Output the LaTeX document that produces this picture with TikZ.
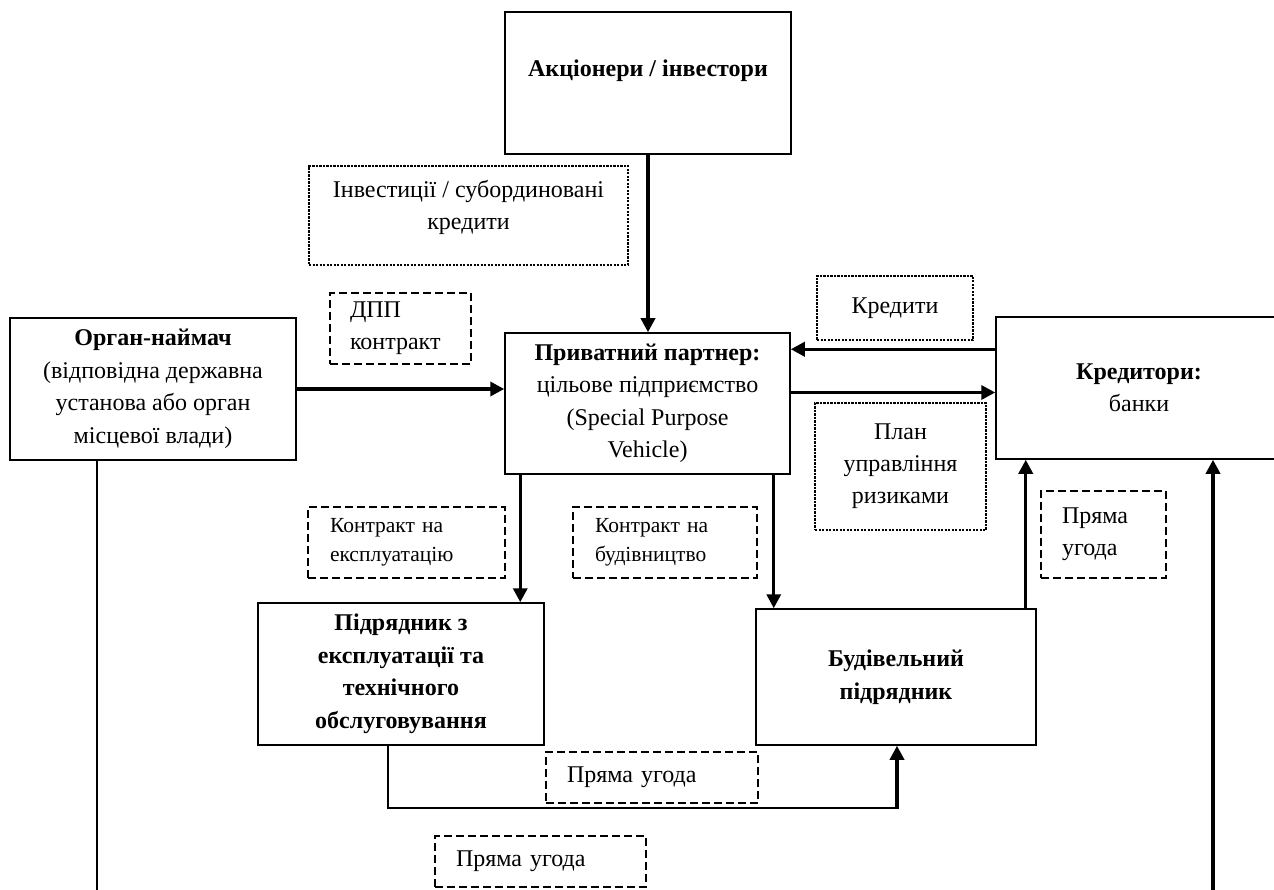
\documentclass[tikz,border=0pt]{standalone}
\usepackage{fontspec}
\setmainfont{Liberation Serif}
\usetikzlibrary{arrows.meta,calc}
\newcommand{\nsz}{\fontsize{24}{32}\selectfont}
\newcommand{\bsz}{\fontsize{24}{32.5}\selectfont}
\newcommand{\ssz}{\fontsize{21.5}{29}\selectfont}
\begin{document}
\begin{tikzpicture}[x=1pt,y=-1pt,
  box/.style={draw, line width=1.5pt, align=center, inner sep=0pt, font=\bsz},
  dashbox/.style={draw, line width=2.5pt, dash pattern=on 8pt off 4pt, inner sep=0pt, font=\nsz},
  dotbox/.style={draw, line width=2.6pt, dash pattern=on 2.2pt off 1.3pt, inner sep=0pt, align=center, font=\nsz},
  arr/.style={line width=3.4pt, -{Triangle[length=14pt,width=14pt]}},
  thinline/.style={line width=1.5pt}]
\useasboundingbox (0,0) rectangle (1274,890);
\clip (0,0) rectangle (1274,890);
% main boxes
\node[box, minimum width=286pt, minimum height=142pt,
  label={[yshift=12pt,font=\nsz\bfseries]center:Акціонери / інвестори}] (ak) at (648,83) {};
\node[box, minimum width=286pt, minimum height=142pt] (org) at (153,389)
  {\textbf{Орган-наймач}\\(відповідна державна\\установа або орган\\місцевої влади)};
\node[box, minimum width=285pt, minimum height=141pt] (pp) at (647.5,403.5)
  {\textbf{Приватний партнер:}\\цільове підприємство\\(Special Purpose\\Vehicle)};
\node[box, minimum width=286pt, minimum height=142pt] (kr) at (1139,388)
  {\textbf{Кредитори:}\\банки};
\node[box, font=\bsz\bfseries, minimum width=286pt, minimum height=142pt] (pid) at (401,674)
  {Підрядник з\\експлуатації та\\технічного\\обслуговування};
\node[box, font=\bsz\bfseries, minimum width=280pt, minimum height=136pt] (bud) at (896,677)
  {Будівельний\\підрядник};
% dotted label boxes
\node[dotbox, minimum width=319pt, minimum height=99pt,
  label={[yshift=8pt,font=\nsz,align=center]center:Інвестиції / субординовані\\кредити}] (inv) at (468.5,215.5) {};
\node[dotbox, minimum width=156pt, minimum height=64pt] (kred) at (895,308) {Кредити};
\node[dotbox, minimum width=171pt, minimum height=127pt] (plan) at (900.5,466.5) {План\\управління\\ризиками};
% dashed label boxes
\node[dashbox, align=left, text width=101pt, inner xsep=20pt, minimum height=71pt] (dpp) at (400.5,328.5)
  {ДПП\\контракт};
\node[dashbox, align=left, text width=153pt, inner xsep=22pt, minimum height=71pt, font=\ssz] (ke) at (406.5,542.5)
  {Контракт на\\експлуатацію};
\node[dashbox, align=left, text width=140pt, inner xsep=22pt, minimum height=71pt, font=\ssz] (kb) at (665,542.5)
  {Контракт на\\будівництво};
\node[dashbox, align=left, text width=83pt, inner xsep=21pt, minimum height=87pt] (pu1) at (1103.5,534.5)
  {Пряма\\угода};
\node[dashbox, align=left, text width=170pt, inner xsep=21pt, minimum height=51pt] (pu2) at (652,777.5)
  {Пряма угода};
\node[dashbox, align=left, text width=169pt, inner xsep=21pt, minimum height=51pt] (pu3) at (540.5,861.5)
  {Пряма угода};
% free ends
\coordinate (lb) at (97,890);
\coordinate (rb) at (1213,890);
\coordinate (corner) at (897,808);
% connectors
\draw[arr] (ak.south) -- (ak.south |- pp.north);
\draw[arr] (org.east) -- (org.east -| pp.west);
\draw[arr] ([yshift=-33pt]kr.north west) -- ([yshift=-33pt]kr.north west -| pp.east);
\draw[arr] ([yshift=11pt]pp.east) -- ([yshift=11pt]pp.east -| kr.west);
\draw[arr] ([xshift=16pt]pp.south west) -- ([xshift=16pt]pp.south west |- pid.north);
\draw[arr] ([xshift=-17pt]pp.south east) -- ([xshift=-17pt]pp.south east |- bud.north);
\draw[arr] ([xshift=-11pt]bud.north east) -- ([xshift=-11pt]bud.north east |- kr.south);
\draw[arr] (rb) -- (rb |- kr.south);
\draw[thinline] (org.south -| lb) -- (lb);
\draw[thinline] ([xshift=-13pt]pid.south) |- ([xshift=1.7pt]corner);
\draw[arr] (corner) -- (corner |- bud.south);
\end{tikzpicture}
\end{document}
